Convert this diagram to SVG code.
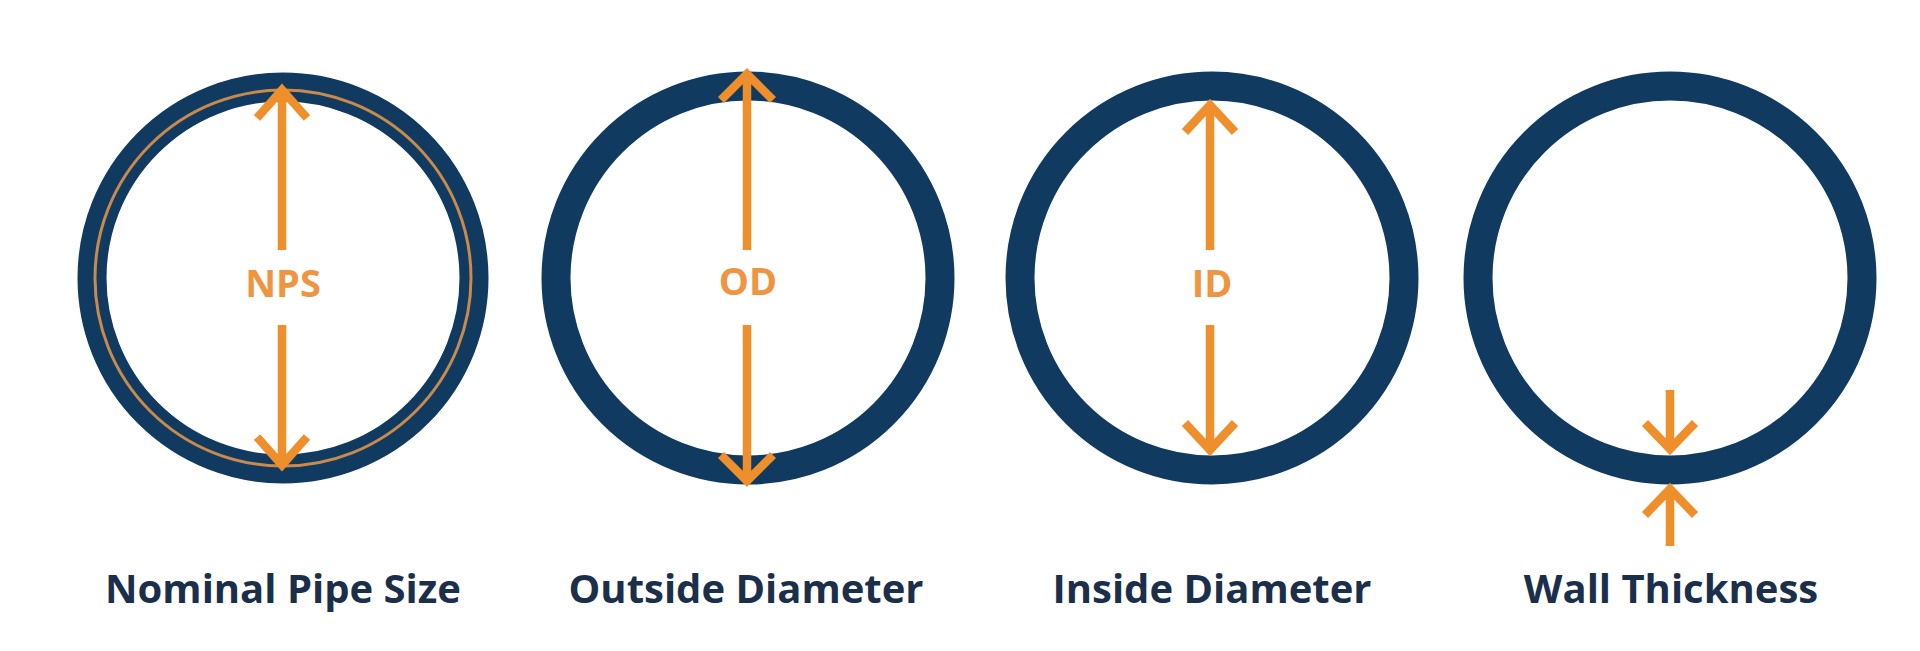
<svg xmlns="http://www.w3.org/2000/svg" width="1920" height="651" viewBox="0 0 1920 651">
<style>
.ring{fill:none;stroke:#103a60;stroke-width:29}
.arr{fill:none;stroke:#ef8f2c;stroke-width:8.5;stroke-linejoin:miter;stroke-linecap:butt}
.sym{font-family:"Open Sans","Liberation Sans",sans-serif;font-weight:700;font-size:38px;fill:#ef9440;text-anchor:middle}
.lbl{font-family:"Open Sans","Liberation Sans",sans-serif;font-weight:700;font-size:40px;fill:#1b2f4b;text-anchor:middle}
</style>
<rect width="1920" height="651" fill="#ffffff"/>
<g id="nps">
<circle class="ring" cx="283" cy="278" r="191"/>
<circle cx="283" cy="278" r="188" fill="none" stroke="#c98a4b" stroke-width="3"/>
<text class="sym" x="283" y="297">NPS</text>
<text class="lbl" x="283" y="603">Nominal Pipe Size</text>
</g>
<g id="od">
<circle class="ring" cx="748" cy="278" r="192"/>
<text class="sym" x="748" y="295">OD</text>
<text class="lbl" x="746" y="603">Outside Diameter</text>
</g>
<g id="id">
<circle class="ring" cx="1212" cy="278" r="192"/>
<text class="sym" x="1212" y="297">ID</text>
<text class="lbl" x="1212" y="603">Inside Diameter</text>
</g>
<g id="wt">
<circle class="ring" cx="1670" cy="278" r="192"/>
<text class="lbl" x="1671" y="603">Wall Thickness</text>
</g>
<g id="connectors">
<path class="arr" d="M282,250 V90 M257,118 L282,90 L307,118"/>
<path class="arr" d="M282,325 V465 M257,437 L282,465 L307,437"/>
<path class="arr" d="M747,250 V74 M721,100 L747,74 L773,100"/>
<path class="arr" d="M747,325 V481 M721,455 L747,481 L773,455"/>
<path class="arr" d="M1210,250 V105 M1185,132 L1210,105 L1235,132"/>
<path class="arr" d="M1210,325 V450 M1185,423 L1210,450 L1235,423"/>
<path class="arr" d="M1670,390 V449 M1645,423 L1670,449 L1695,423"/>
<path class="arr" d="M1670,546 V489 M1645,515 L1670,489 L1695,515"/>
</g>
</svg>
